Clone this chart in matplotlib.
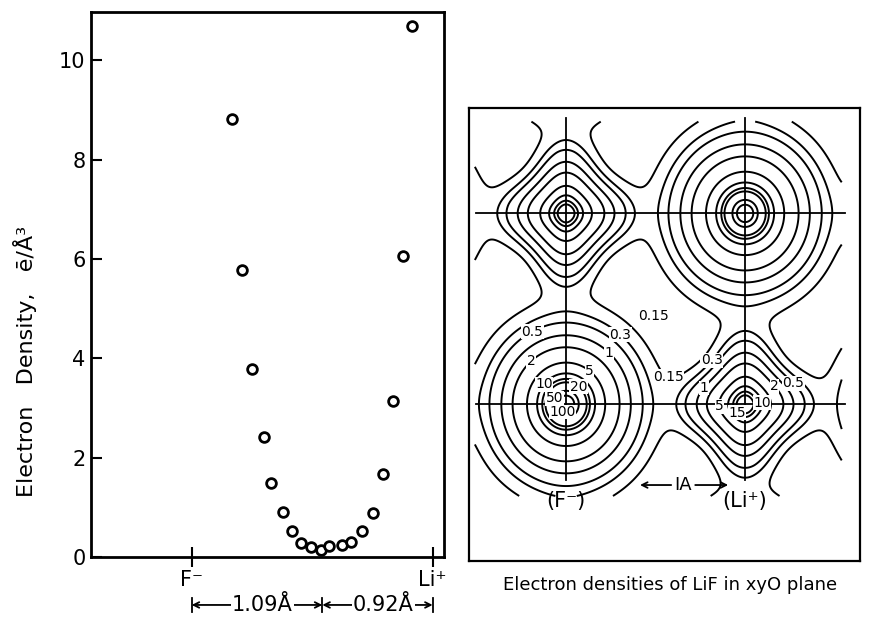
import numpy as np
import matplotlib
matplotlib.use('Agg')
import matplotlib.pyplot as plt
from matplotlib.transforms import blended_transform_factory

# ---- left panel: electron density along the F- -> Li+ line ----
# distance from the F- nucleus (A) and density (e/A^3)
dist = [0.334, 0.417, 0.500, 0.606, 0.661, 0.759, 0.837, 0.909, 0.993, 1.076,
        1.145, 1.254, 1.328, 1.420, 1.512, 1.595, 1.679, 1.762, 1.835]
density = [8.81, 5.77, 3.78, 2.41, 1.49, 0.91, 0.53, 0.29, 0.21, 0.14,
           0.22, 0.25, 0.31, 0.53, 0.89, 1.67, 3.14, 6.06, 10.69]

r_F = 1.09     # F- radius along the bond
r_Li = 0.92    # Li+ radius along the bond
bond = r_F + r_Li
ion_ticks = [0.0, bond]
ion_labels = ['F\u207b', 'Li\u207a']
y_ticks = [0, 2, 4, 6, 8, 10]

# ---- right panel: density map in the xy0 plane ----
levels = [0.15, 0.3, 0.5, 1, 2, 5, 10, 15, 20, 50, 100]
level_fmt = {0.15: '0.15', 0.3: '0.3', 0.5: '0.5', 1: '1', 2: '2', 5: '5',
             10: '10', 15: '15', 20: '20', 50: '50', 100: '100'}
f_terms = [(400.0, 20.0), (60.0, 5.8), (0.8, 2.8)]   # (amplitude, decay 1/A)
li_terms = [(40.8, 7.65)]
li_aniso = 0.12
li_aniso_r = 0.65
map_window = (-1.03, 3.10, -0.97, 2.98)   # xmin, xmax, ymin, ymax drawn

# contour labels snapped to their rings (x, y in A, level)
ring_labels = [(-0.37, 0.75, 0.5), (0.60, 0.72, 0.3), (-0.40, 0.46, 2),
               (0.46, 0.52, 1), (0.27, 0.36, 5), (-0.27, 0.23, 10),
               (0.12, 0.16, 20), (-0.15, 0.07, 50), (-0.04, -0.08, 100),
               (1.60, 0.49, 0.3), (1.56, 0.16, 1), (1.80, -0.01, 5),
               (1.94, -0.07, 15), (2.15, 0.01, 10), (2.33, 0.18, 2),
               (2.63, 0.29, 0.5)]
# labels of the 0.15 level between the ions
low_labels = [(0.98, 0.93), (1.15, 0.29)]

fig = plt.figure(figsize=(8.75, 6.28), dpi=100)

# left panel
ax1 = fig.add_axes([91 / 875, 1 - 557 / 628, 353 / 875, 545 / 628])
ax1.plot(dist, density, 'o', ms=7, mfc='white', mec='black', mew=2,
         clip_on=False)
ax1.set_xlim(-0.84, 2.105)
ax1.set_ylim(0, 10.97)
for s in ax1.spines.values():
    s.set_linewidth(2)
ax1.set_yticks(y_ticks)
ax1.set_xticks(ion_ticks)
ax1.set_xticklabels(ion_labels)
ax1.tick_params(axis='y', direction='in', length=8, width=1.5,
                labelsize=15, pad=4)
ax1.tick_params(axis='x', direction='inout', length=14, width=1.5,
                labelsize=15, pad=2)
ax1.set_ylabel('Electron   Density,   \u0113/\u00c5\u00b3', fontsize=16)
ax1.yaxis.set_label_coords(-0.153, 0.358)

# bond length markers below the axis
tr = blended_transform_factory(ax1.transData, ax1.transAxes)
yb = -0.088
ax1.annotate('', xy=(0, yb), xytext=(r_F, yb), xycoords=tr,
             arrowprops=dict(arrowstyle='<->', lw=1.3, shrinkA=0, shrinkB=0))
ax1.annotate('', xy=(r_F, yb), xytext=(bond, yb), xycoords=tr,
             arrowprops=dict(arrowstyle='<->', lw=1.3, shrinkA=0, shrinkB=0))
for xv in [0, r_F, bond]:
    ax1.plot([xv, xv], [yb - 0.012, yb + 0.012], color='k', lw=1.3,
             transform=tr, clip_on=False)
ax1.text(0.59, yb, '1.09\u00c5', transform=tr, ha='center', va='center',
         fontsize=15, bbox=dict(fc='white', ec='none', pad=1))
ax1.text(1.60, yb, '0.92\u00c5', transform=tr, ha='center', va='center',
         fontsize=15, bbox=dict(fc='white', ec='none', pad=1))

# right panel
ax2 = fig.add_axes([469 / 875, 1 - 561 / 628, 391 / 875, 453 / 628])
x = np.linspace(-1.09, 3.30, 600)
y = np.linspace(-1.65, 3.12, 600)
X, Y = np.meshgrid(x, y)
rho = np.zeros_like(X)
for i in range(-2, 4):
    for j in range(-2, 4):
        dx = X - i * bond
        dy = Y - j * bond
        r = np.hypot(dx, dy)
        if (i + j) % 2 == 0:
            for A, k in f_terms:
                rho += A * np.exp(-k * r)
        else:
            th = np.arctan2(dy, dx)
            shape = 1 - li_aniso * np.minimum(r / li_aniso_r, 1) * np.cos(4 * th)
            for A, k in li_terms:
                rho += A * np.exp(-k * r * shape)

xmin, xmax, ymin, ymax = map_window
outside = (X < xmin) | (X > xmax) | (Y < ymin) | (Y > ymax)
rho = np.where(outside, np.nan, rho)

# one contour set per level so each label lands on its own level
sets = {}
for lev in levels:
    sets[lev] = ax2.contour(X, Y, rho, levels=[lev], colors='black',
                            linewidths=1.4)
for lx, ly, lev in ring_labels:
    texts = ax2.clabel(sets[lev], manual=[(lx, ly)], fmt=level_fmt,
                       fontsize=10, inline=False)
    for t in texts:
        t.set_rotation(0)
        t.set_bbox(dict(fc='white', ec='none', pad=0.3))
for lx, ly in low_labels:
    ax2.text(lx, ly, level_fmt[0.15], ha='center', va='center', fontsize=10,
             bbox=dict(fc='white', ec='none', pad=0.3))

for xv in [0, bond]:
    ax2.plot([xv, xv], [-0.80, 3.01], color='k', lw=1.3)
for yv in [0, bond]:
    ax2.plot([-1.01, 3.13], [yv, yv], color='k', lw=1.3)

ax2.text(0, -1.02, '(F\u207b)', ha='center', va='center', fontsize=15)
ax2.text(bond, -1.02, '(Li\u207a)', ha='center', va='center', fontsize=15)
ax2.annotate('', xy=(0.83, -0.85), xytext=(1.18, -0.85),
             arrowprops=dict(arrowstyle='->', lw=1.3, shrinkA=0, shrinkB=0))
ax2.annotate('', xy=(1.82, -0.85), xytext=(1.45, -0.85),
             arrowprops=dict(arrowstyle='->', lw=1.3, shrinkA=0, shrinkB=0))
ax2.text(1.31, -0.85, 'IA', ha='center', va='center', fontsize=13)

ax2.set_xlim(-1.09, 3.30)
ax2.set_ylim(-1.65, 3.12)
ax2.set_xticks([])
ax2.set_yticks([])
for s in ax2.spines.values():
    s.set_linewidth(1.6)

fig.text(670 / 875, 1 - 585 / 628, 'Electron densities of LiF in xyO plane',
         ha='center', va='center', fontsize=13)

fig.savefig('out.png', dpi=100)
